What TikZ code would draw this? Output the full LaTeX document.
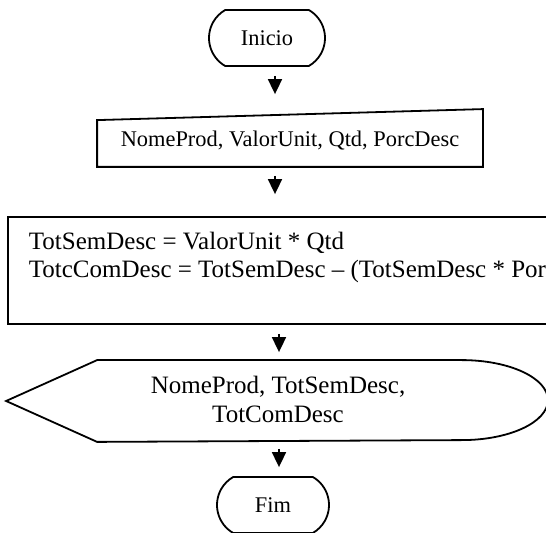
\documentclass[tikz,border=0pt]{standalone}
\usepackage{fontspec}
\setmainfont{Liberation Serif}
\usetikzlibrary{arrows.meta,shapes.misc,calc}
\begin{document}
\begin{tikzpicture}[x=0.5pt,y=-0.5pt,line width=0.9pt,
  lbl/.style={font=\fontsize{12.5}{14.4}\selectfont,inner sep=0pt},
  small/.style={font=\fontsize{11.2}{13}\selectfont,inner sep=0pt},
  term/.style={small,rounded rectangle,rounded rectangle arc length=120,draw,
    minimum height=28pt},
  frame/.style={draw=none,inner sep=0pt,rectangle},
  flow/.style={-{Triangle[length=7.5pt,width=7pt]},line width=0.9pt}]
\useasboundingbox (0,0) rectangle (546,533);
\clip (0,0) rectangle (546,533);

% start / end terminators
\node[term,minimum width=58pt] (inicio) at (267,38) {Inicio};
\node[term,minimum width=56pt] (fim) at (273,505) {Fim};

% manual input (sloped top edge)
\node[frame,minimum width=192pt,minimum height=28pt] (entrada) at (290,138) {};
\draw ($(entrada.north west)+(0,11)$) -- (entrada.north east)
  -- (entrada.south east) -- (entrada.south west) -- cycle;
\node[small,anchor=base] (entradaTxt) at (290,147) {NomeProd, ValorUnit, Qtd, PorcDesc};

% process box, running past the right edge
\node[frame,draw,minimum width=286pt,minimum height=53.5pt] (proc) at (294,270.5) {};
\node[lbl,anchor=base west] (calcA) at (28,250) {TotSemDesc = ValorUnit * Qtd};
\node[lbl,anchor=base west] (calcB) at (28,278) {TotcComDesc = TotSemDesc – (TotSemDesc * PorcDesc)};

% display shape
\node[frame,minimum width=270pt,minimum height=40pt] (disp) at (277,401) {};
\draw (disp.west) -- ($(disp.north west)+(91,0)$) -- ($(disp.north east)+(-86,0)$)
  arc[start angle=-90,end angle=90,x radius=86,y radius=40]
  -- ($(disp.south west)+(91,0)$) -- cycle;
\node[lbl,anchor=base] (dispA) at (278,394) {NomeProd, TotSemDesc,};
\node[lbl,anchor=base] (dispB) at (278,423) {TotComDesc};

% connectors
\coordinate (axA) at (275,0);
\coordinate (axB) at (279,0);
\draw[flow,shorten <=4.5pt,shorten >=7.5pt] (inicio.south -| axA) -- (entrada.north -| axA);
\draw[flow,shorten <=4.5pt,shorten >=11pt] (entrada.south -| axA) -- (proc.north -| axA);
\draw[flow,shorten <=4.5pt,shorten >=4pt] (proc.south -| axB) -- (disp.north -| axB);
\draw[flow,shorten <=3.5pt,shorten >=4.5pt] (disp.south -| axB) -- (fim.north -| axB);
\end{tikzpicture}
\end{document}
